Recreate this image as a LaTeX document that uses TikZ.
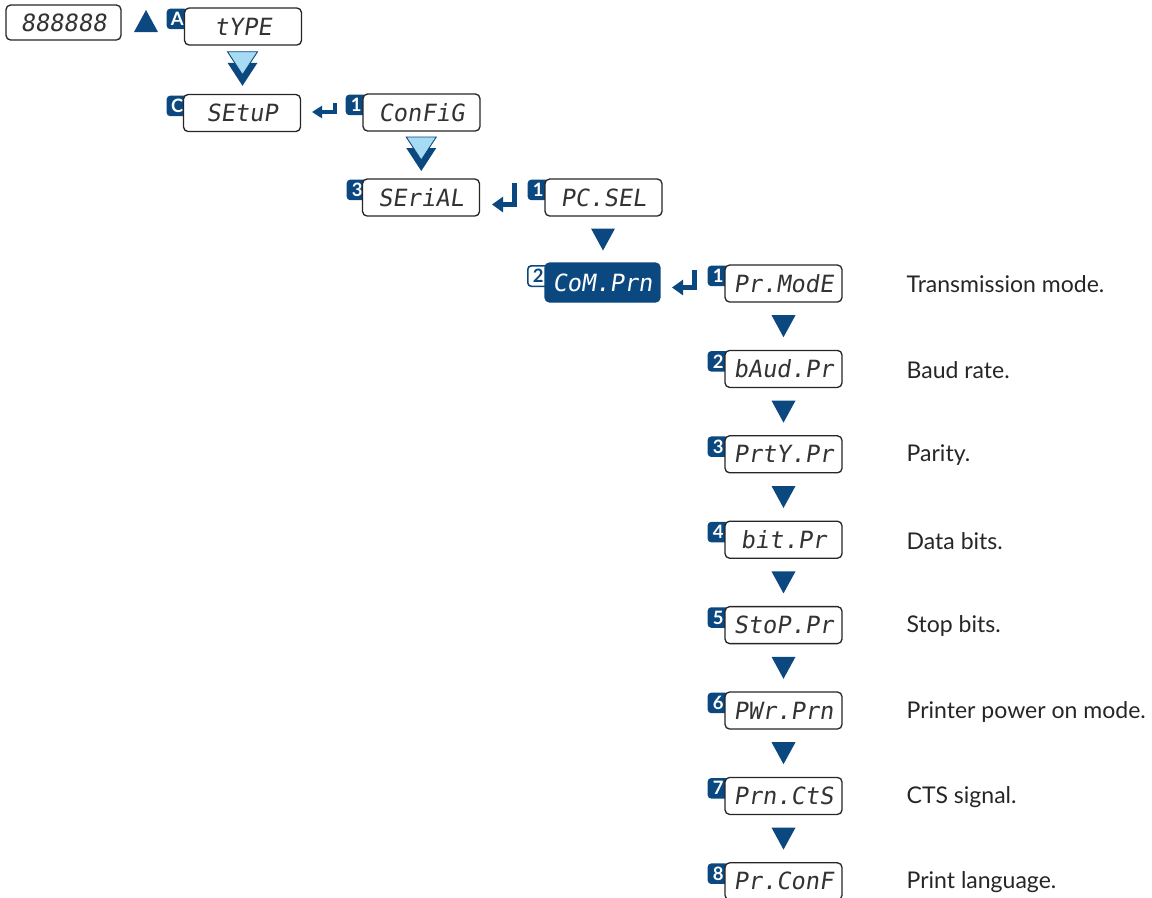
\documentclass[tikz,border=0pt]{standalone}
\usepackage{fontspec}
\setmainfont{Lato}
\newfontfamily\segfont[FakeSlant=0.15]{DejaVu Sans Mono}
\usetikzlibrary{positioning,calc,arrows.meta}
\definecolor{navy}{RGB}{12,72,128}
\definecolor{paleblue}{RGB}{166,219,244}
% flow marks (coordinates in px, y downwards)
\newcommand{\downtri}[1]{\fill[navy] #1 ++(-12,-11) -- ++(24,0) -- ++(-12,22) -- cycle;}
\newcommand{\dbltri}[1]{%
  \fill[navy] #1 ++(-15,-7) -- ++(30,0) -- ++(-15,23) -- cycle;
  \filldraw[fill=paleblue, draw=navy, line width=0.5pt] #1 ++(-15,-18) -- ++(30,0) -- ++(-15,23) -- cycle;}

\begin{document}
\begin{tikzpicture}[x=0.02cm, y=-0.02cm, line width=0.75pt,
  lcd/.style={draw=black!85, fill=white, rounded corners=2.6pt, minimum width=2.34cm, minimum height=0.74cm, inner sep=0pt, text=black!80, font=\segfont\fontsize{13.5}{14}\selectfont},
  badge/.style={fill=navy, text=white, rounded corners=2pt, minimum width=0.42cm, minimum height=0.41cm, inner sep=0pt, anchor=north west, font=\bfseries\fontsize{10.5}{12}\selectfont},
  note/.style={anchor=west, inner sep=0pt, font=\fontsize{13.1}{15}\selectfont, text=black!85},
  ret/.style={navy, line width=2.8pt, -{Triangle[length=0.22cm, width=0.3cm]}},
  retsmall/.style={navy, line width=1.8pt, -{Triangle[length=0.2cm, width=0.24cm]}}]
\useasboundingbox (0,0) rectangle (1152,897);
% ---- badges first, the boxes cover their right edge
\node[badge] (bA) at (166,8) {A\hspace{2pt}};
\node[badge] (bC) at (166,95) {C\hspace{2pt}};
\node[badge] (bconf) at (345,94) {1\hspace{2pt}};
\node[badge] (bser) at (346,179) {3\hspace{2pt}};
\node[badge] (bpc) at (527,179) {1\hspace{2pt}};
\node[badge, fill=white, draw=navy, line width=0.9pt, text=navy] (bcom) at (527,265) {2\hspace{2pt}};
\foreach \i [count=\k from 0] in {1,...,8}
  \node[badge] (b\i) at (707,265+85.4*\k) {\i\hspace{2pt}};
% ---- top of the menu
\node[lcd, minimum width=2.3cm, minimum height=0.7cm] (disp) at (63.5,22.5) {888888};
\fill[navy] (134,32) -- (158,32) -- (146,10) -- cycle;
\node[lcd] (type) at (243,26.5) {tYPE};
\node[lcd] (setup) at (242,113) {SEtuP};
\node[lcd] (config) at (421.5,112.5) {ConFiG};
\node[lcd] (serial) at (421,197.5) {SEriAL};
\node[lcd] (pcsel) at (603.5,197.5) {PC.SEL};
\node[lcd, draw=navy, fill=navy, text=white, minimum width=2.3cm, minimum height=0.78cm] (comprn) at (602.5,282.5) {CoM.Prn};
\dbltri{($(type.south)!.5!(setup.north)$)}
\dbltri{($(config.south)!.5!(serial.north)$)}
\downtri{($(pcsel.south)!.5!(comprn.north)$)}
\draw[retsmall] (335,103) -- (335,112) -- (312,112);
\draw[ret] (514.5,183) -- (514.5,204.5) -- (492,204.5);
\draw[ret] (694.5,270) -- (694.5,287.5) -- (672,287.5);
% ---- printer parameters
\foreach \i/\txt/\desc [count=\k from 0] in {
    1/Pr.ModE/Transmission mode.,
    2/bAud.Pr/Baud rate.,
    3/PrtY.Pr/Parity.,
    4/bit.Pr/Data bits.,
    5/StoP.Pr/Stop bits.,
    6/PWr.Prn/Printer power on mode.,
    7/Prn.CtS/CTS signal.,
    8/Pr.ConF/Print language.} {
  \node[lcd] (p\i) at (783.5,283.5+85.4*\k) {\txt};
  \node[note] (d\i) at (906,284.5+85.4*\k) {\desc};
}
\foreach \i [evaluate=\i as \j using int(\i+1)] in {1,...,7} {
  \downtri{($(p\i.south)!.5!(p\j.north)$)}
}
\end{tikzpicture}
\end{document}
